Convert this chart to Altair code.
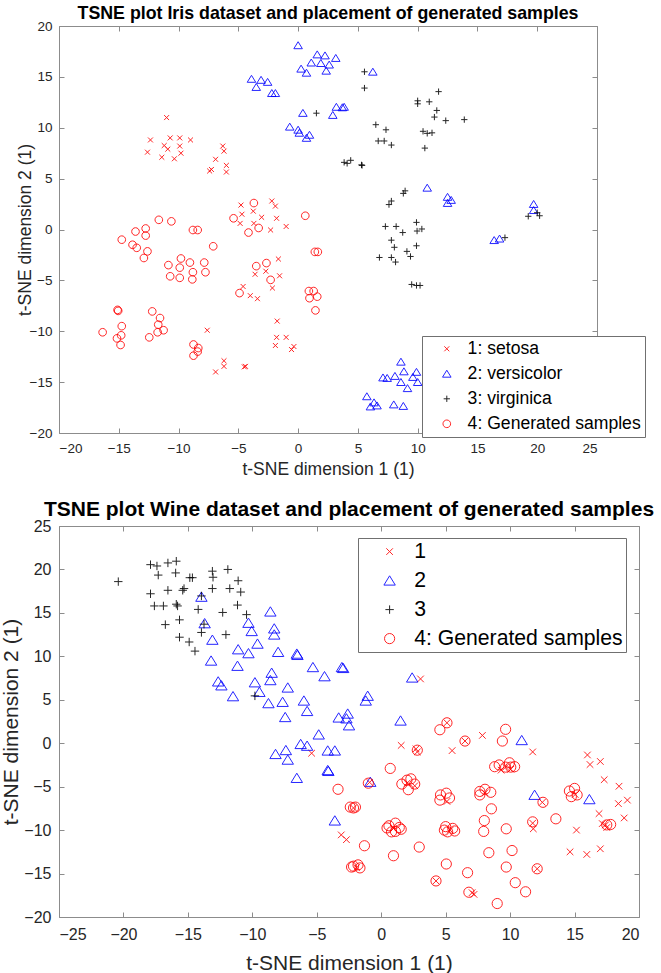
import altair as alt
import pandas as pd

FONT = "Liberation Sans"
GRAY = "#8c8c8c"

# ---------------- Iris panel ----------------
iris_labels = ["1: setosa", "2: versicolor", "3: virginica", "4: Generated samples"]

iris_setosa_x = [-11.0, -12.35, -10.7, -9.9, -9.0, -11.2, -10.9, -9.9, -12.6, -11.4, -10.35, -9.8, -6.3, -6.2,
                 -6.9, -7.25, -7.4, -6.0, -6.0, -4.78, -4.7, -4.85, -3.75, -3.7, -3.05, -2.2, -1.9, -1.8, -2.3,
                 -1.0, -1.65, -1.55, -3.6, -2.7, -2.15, -4.6, -4.0, -3.4, -1.75, -7.6, -1.8, -1.0, -1.9, -0.35,
                 -0.55, -6.2, -6.2, -6.9, -4.4, -4.5]
iris_setosa_y = [11.0, 8.8, 9.0, 9.0, 8.8, 8.25, 7.9, 8.2, 7.6, 7.1, 6.95, 7.5, 8.2, 7.7,
                 6.9, 5.9, 5.75, 6.3, 5.65, 2.4, 1.5, 0.6, 1.8, 0.6, 1.2, 2.8, 2.3, 1.1, -0.05,
                 0.3, -2.9, -4.55, -4.4, -4.1, -5.75, -5.6, -6.5, -6.8, -9.0, -9.9, -10.6, -10.6, -11.4, -11.5,
                 -11.8, -12.9, -13.45, -14.0, -13.45, -13.5]

iris_versicolor_x = [0.0, 1.6, 2.25, 3.15, 1.1, 1.9, 2.6, 0.25, 0.7, 2.35, 6.25, -3.9, -3.1, -2.55, -3.5, -2.2,
                     -1.9, 0.4, 3.2, 3.7, 3.85, 2.9, -0.7, 0.0, 0.1, 0.95, 0.7, 10.8, 12.5, 12.8, 12.5, 19.7,
                     19.7, 16.4, 16.85, 8.6, 8.1, 7.1, 7.45, 8.85, 9.9, 9.6, 10.0, 8.6, 9.15, 5.75, 6.35, 6.05,
                     6.6, 8.0, 8.8]
iris_versicolor_y = [18.1, 17.2, 17.1, 16.85, 16.4, 16.35, 16.2, 15.8, 15.4, 15.6, 15.5, 14.8, 14.7, 14.5, 14.0,
                     13.4, 13.4, 11.45, 12.05, 12.0, 12.05, 11.25, 10.1, 9.8, 9.5, 9.3, 9.0, 4.1, 3.2, 2.9, 2.6,
                     2.5, 1.9, -1.05, -0.9, -13.0, -14.4, -14.55, -14.6, -13.95, -14.0, -14.5, -15.0, -15.0,
                     -15.6, -16.4, -17.0, -17.4, -17.3, -17.2, -17.35]

iris_virginica_x = [1.53, 5.55, 5.55, 11.75, 10.0, 10.0, 10.97, 11.6, 11.4, 12.35, 13.9, 6.5, 7.35, 10.45, 10.8,
                    11.2, 6.7, 7.2, 7.8, 10.6, 3.85, 4.1, 4.4, 5.3, 5.35, 8.95, 8.8, 7.8, 7.6, 17.3, 19.25, 20.0,
                    20.2, 7.3, 8.2, 8.75, 9.9, 9.95, 10.35, 7.8, 8.05, 9.9, 9.1, 9.4, 6.8, 7.8, 8.15, 9.5, 9.9,
                    10.2]
iris_virginica_y = [11.43, 15.5, 13.9, 13.55, 12.65, 12.35, 12.55, 11.7, 11.05, 10.7, 10.8, 10.3, 9.8, 9.65, 9.45,
                    9.5, 8.7, 8.7, 8.3, 8.0, 6.6, 6.5, 6.8, 6.35, 6.3, 3.8, 3.55, 2.8, 2.45, -0.8, 1.3, 1.65,
                    1.35, 0.3, 0.3, -0.3, 0.7, -0.15, 0.05, -1.05, -1.75, -1.6, -2.15, -2.65, -2.75, -2.75,
                    -3.2, -5.4, -5.5, -5.5]

iris_generated_x = [-3.7, -5.4, -4.15, -3.3, 0.6, 1.4, 1.65, -11.65, -10.6, -8.8, -8.4, -12.75, -13.6, -12.75,
                    -14.75, -13.85, -13.5, -12.6, -12.9, -7.1, -9.8, -9.05, -7.85, -10.85, -9.9, -8.8, -7.75,
                    -10.7, -9.9, -8.85, -3.5, -2.65, -2.3, -4.9, 0.9, 1.3, 0.95, 1.6, 1.45, -15.1, -15.05,
                    -12.2, -11.55, -11.7, -11.25, -11.75, -14.75, -16.35, -15.15, -14.8, -14.85, -12.45, -8.75,
                    -8.35, -8.4, -8.75]
iris_generated_y = [2.6, 1.1, -0.3, 0.15, 1.35, -2.2, -2.2, 0.95, 0.8, -0.05, -0.05, 0.1, -0.2, -0.6,
                    -1.0, -1.5, -1.8, -2.15, -2.8, -1.65, -2.85, -3.25, -3.25, -3.5, -3.75, -4.2, -4.2,
                    -4.6, -4.75, -4.9, -3.6, -3.3, -4.95, -6.25, -6.05, -6.05, -6.75, -6.6, -7.95, -7.9, -8.0,
                    -8.05, -8.7, -9.35, -9.9, -10.1, -9.5, -10.1, -10.7, -10.4, -11.35, -10.6, -11.3,
                    -11.65, -12.0, -12.4]

iris_x_ticks = [-20, -15, -10, -5, 0, 5, 10, 15, 20, 25]
iris_y_ticks = [-20, -15, -10, -5, 0, 5, 10, 15, 20]

# ---------------- Wine panel ----------------
wine_labels = ["1", "2", "3", "4: Generated samples"]

wine_c1_x = [3.05, -5.4, 1.55, 2.8, 2.7, 5.5, 7.85, 11.75, 16.0, 16.2, 17.0, 17.3, 18.45, 19.1, 18.4, 16.9,
             18.85, 17.15, 17.5, 15.15, 17.0, 14.65, 15.95, 11.8, -3.1, -2.7, 5.1, 6.5, 9.65, 10.05, 9.3, 2.0,
             2.6, 5.1, 8.05, 11.75, 12.5, 12.1, 4.25, 7.05, 7.2, 0.95, 5.35, 15.05, 17.4, -0.9, -2.15, -1.9]
wine_c1_y = [7.4, -1.15, -0.25, -1.0, -0.65, -0.85, 0.9, -1.0, -1.35, -2.45, -2.1, -4.2, -4.95, -6.55, -6.95,
             -8.1, -8.6, -9.25, -9.7, -10.0, -12.15, -12.5, -12.8, -9.85, -10.55, -11.1, 2.35, 0.25, -2.75,
             -3.0, -3.1, -4.6, -4.9, -6.7, -5.7, -9.2, -6.8, -14.45, -15.85, -17.2, -17.4, -9.8, -10.0, -5.9,
             -9.4, -4.5, -7.45, -14.3]

wine_c2_x = [-13.95, -13.7, -13.1, -13.2, -11.1, -11.15, -12.65, -12.4, -11.5, -10.3, -10.05, -9.6, -10.3, -9.8,
             -9.45, -8.6, -8.3, -8.3, -8.0, -8.5, -8.6, -8.75, -7.25, -7.65, -7.45, -6.55, -6.5, -5.3, -4.4,
             -3.05, -2.95, -6.0, -5.75, -4.85, -6.25, -5.75, -8.2, -7.4, -7.25, -6.55, -4.15, -3.6, -4.15, -4.1,
             -3.3, -2.6, -2.7, -2.5, -1.2, -1.05, -0.85, 1.5, 2.4, 10.9, 11.9, 16.15, -3.6]
wine_c2_y = [16.85, 13.8, 11.9, 9.5, 10.8, 8.9, 7.1, 6.65, 5.4, 13.85, 12.9, 11.45, 10.35, 7.0,
             5.9, 15.15, 13.2, 12.5, 10.5, 8.1, 7.25, 4.6, 6.4, 4.75, 3.0, 10.3, 10.15, 8.75, 7.7,
             8.75, 8.65, 4.9, 3.7, 1.0, -0.1, -0.3, -1.25, -0.8, -1.9, -4.0, -0.85, -0.85, -3.1, -3.2,
             2.95, 3.4, 2.85, 2.05, 4.9, 5.45, -4.45, 2.6, 7.55, 0.35, -5.95, -6.45, -8.9]

wine_c3_x = [-20.4, -17.9, -17.4, -16.55, -15.9, -17.3, -15.95, -14.85, -14.65, -13.1, -13.05, -11.9, -11.1,
             -10.9, -11.75, -13.1, -15.4, -16.55, -15.3, -17.9, -17.6, -16.9, -15.9, -15.8, -13.95, -14.2,
             -12.3, -11.15, -10.45, -16.75, -15.65, -13.75, -13.95, -12.05, -15.65, -14.9, -14.45, -9.8]
wine_c3_y = [18.6, 20.55, 20.4, 20.75, 20.95, 19.35, 19.6, 19.05, 19.05, 19.8, 19.1, 20.0, 18.7,
             17.4, 17.8, 17.8, 17.6, 17.6, 17.8, 17.2, 15.8, 15.8, 16.0, 15.8, 16.95, 15.4,
             15.05, 15.9, 14.8, 13.65, 14.2, 13.7, 12.75, 12.5, 12.2, 11.65, 10.6, 5.45]

wine_gen_x = [5.1, 4.55, 6.5, 2.8, 9.65, 9.4, 9.15, 9.65, 10.05, 9.95, 10.35, 8.8, 0.7, 1.6, 2.0, 2.3, 2.6,
              2.1, -1.0, -3.35, -2.4, -2.15, -2.0, 4.6, 5.05, 5.3, 4.55, 7.65, 8.05, 8.5, 7.65, 8.55, 8.0,
              7.95, 9.7, 10.15, 8.35, 9.7, 10.4, 11.2, 9.0, 6.8, 4.25, 5.05, 6.7, 2.95, 0.95, -1.3, -2.15,
              -1.65, -2.3, -1.8, 0.6, 1.1, 1.4, 0.45, 1.1, 1.55, 0.8, 5.0, 5.55, 5.15, 5.7, 4.9, 11.75,
              12.55, 13.55, 12.1, 14.6, 15.0, 15.2, 14.75, 17.5, 17.8]
wine_gen_y = [2.35, 1.55, 0.25, -0.8, 1.6, 0.25, -2.5, -2.75, -2.75, -2.25, -2.7, -2.7, -2.9, -4.7, -4.25,
              -4.1, -4.7, -5.35, -4.6, -5.3, -7.35, -7.45, -7.35, -5.95, -5.75, -6.3, -6.55, -5.55, -5.3,
              -5.65, -5.95, -7.55, -8.9, -10.15, -9.85, -12.35, -12.6, -14.25, -16.05, -17.1, -18.45, -17.15,
              -15.85, -13.9, -14.9, -11.95, -12.95, -11.8, -14.15, -14.35, -14.25, -14.0, -9.5, -9.2, -9.7,
              -9.75, -10.15, -9.9, -10.2, -9.6, -9.8, -10.2, -10.1, -10.0, -9.05, -6.8, -8.7, -14.45, -5.5,
              -5.2, -5.95, -6.15, -9.4, -9.35]

wine_x_ticks = [-25, -20, -15, -10, -5, 0, 5, 10, 15, 20]
wine_y_ticks = [-20, -15, -10, -5, 0, 5, 10, 15, 20, 25]

# ---------------- marker shapes (unit box -1..1) ----------------
X_PATH = "M-0.55,-0.55L0.55,0.55M-0.55,0.55L0.55,-0.55"
TRI_PATH = "M0,-0.8L0.95,0.75L-0.95,0.75Z"
PLUS_PATH = "M-0.7,0L0.7,0M0,-0.7L0,0.7"
CIRCLE_PATH = "M0.85,0A0.85,0.85,0,1,1,-0.85,0A0.85,0.85,0,1,1,0.85,0Z"
COLORS = ["#ff0000", "#0000ff", "#000000", "#ff0000"]
SHAPES = [X_PATH, TRI_PATH, PLUS_PATH, CIRCLE_PATH]


def make_df(groups, labels):
    rows = []
    for k, (xs, ys) in enumerate(groups):
        for x, y in zip(xs, ys):
            rows.append({"x": x, "y": y, "cls": labels[k], "ord": k})
    return pd.DataFrame(rows)


def panel(df, labels, title, xdom, ydom, xticks, yticks, w, h, S, fs_tick, fs_axis, fs_head,
          fs_leg, legx, legy, leg_pad, leg_row, sym_off, lab_off, lab_pad_x, lab_pad_y,
          title_pad_x, title_pad_y, head_off):
    common = dict(domainColor=GRAY, tickColor=GRAY, tickSize={"expr": "-5"}, tickWidth=1,
                  labelColor="#262626", labelFont=FONT, labelFontSize=fs_tick,
                  titleFont=FONT, titleFontSize=fs_axis, titleFontWeight="normal",
                  titleColor="#262626", grid=False, format="d")
    xs = alt.Scale(domain=xdom, nice=False, zero=False)
    ys = alt.Scale(domain=ydom, nice=False, zero=False)
    leg = alt.Legend(orient="none", legendX=legx, legendY=legy, title=None, fillColor="white",
                     strokeColor="#707070", padding=leg_pad, rowPadding=leg_row,
                     labelFont=FONT, labelFontSize=fs_leg, labelColor="black",
                     symbolSize=S, symbolStrokeWidth=1, symbolOpacity=0.85,
                     symbolOffset=sym_off, labelOffset=lab_off, labelLimit=400)
    pts = alt.Chart(df).mark_point(filled=False, size=S, strokeWidth=1, opacity=0.85).encode(
        x=alt.X("x:Q", scale=xs, axis=alt.Axis(orient="bottom", values=xticks,
                                               title="t-SNE dimension 1 (1)",
                                               labelPadding=lab_pad_x, titlePadding=title_pad_x,
                                               **common)),
        y=alt.Y("y:Q", scale=ys, axis=alt.Axis(orient="left", values=yticks,
                                               title="t-SNE dimension 2 (1)",
                                               labelPadding=lab_pad_y, titlePadding=title_pad_y,
                                               **common)),
        color=alt.Color("cls:N", scale=alt.Scale(domain=labels, range=COLORS), legend=leg),
        shape=alt.Shape("cls:N", scale=alt.Scale(domain=labels, range=SHAPES), legend=leg),
        order=alt.Order("ord:Q"),
    )
    frame = alt.Chart(df).mark_point(opacity=0).encode(
        x=alt.X("x:Q", scale=xs, axis=alt.Axis(orient="top", values=xticks, labels=False,
                                               title=None, **common)),
        y=alt.Y("y:Q", scale=ys, axis=alt.Axis(orient="right", values=yticks, labels=False,
                                               title=None, **common)),
    )
    return alt.layer(pts, frame).resolve_axis(x="independent", y="independent").properties(
        width=w, height=h,
        title=alt.TitleParams(title, font=FONT, fontSize=fs_head, fontWeight="bold",
                              color="black", anchor="middle", offset=head_off),
    )


iris_df = make_df([(iris_setosa_x, iris_setosa_y), (iris_versicolor_x, iris_versicolor_y),
                   (iris_virginica_x, iris_virginica_y), (iris_generated_x, iris_generated_y)],
                  iris_labels)
wine_df = make_df([(wine_c1_x, wine_c1_y), (wine_c2_x, wine_c2_y), (wine_c3_x, wine_c3_y),
                   (wine_gen_x, wine_gen_y)], wine_labels)

top = panel(iris_df, iris_labels, "TSNE plot Iris dataset and placement of generated samples",
            [-20, 25], [-20, 20], iris_x_ticks, iris_y_ticks, 538, 407, 81,
            13.5, 17.5, 17.8, 17.6, 363, 310, 4, 6, 12, 12, 13, 12, 6, -5, -4)
bottom = panel(wine_df, wine_labels, "TSNE plot Wine dataset and placement of generated samples",
               [-25, 20], [-20, 25], wine_x_ticks, wine_y_ticks, 580, 391, 144,
               16, 21, 21, 21.2, 299, 12, 3, 7, 18, 14, 14, 13, 10, 2, -2)

chart = alt.vconcat(top, bottom, spacing=19).resolve_scale(
    color="independent", shape="independent", x="independent", y="independent"
).resolve_legend(color="independent", shape="independent").properties(
    padding={"left": 0, "top": 4, "right": 0, "bottom": 0}
).configure_view(stroke=GRAY, strokeWidth=1).configure(background="white")

chart.save("out.html", embed_options={"renderer": "svg", "actions": False})
